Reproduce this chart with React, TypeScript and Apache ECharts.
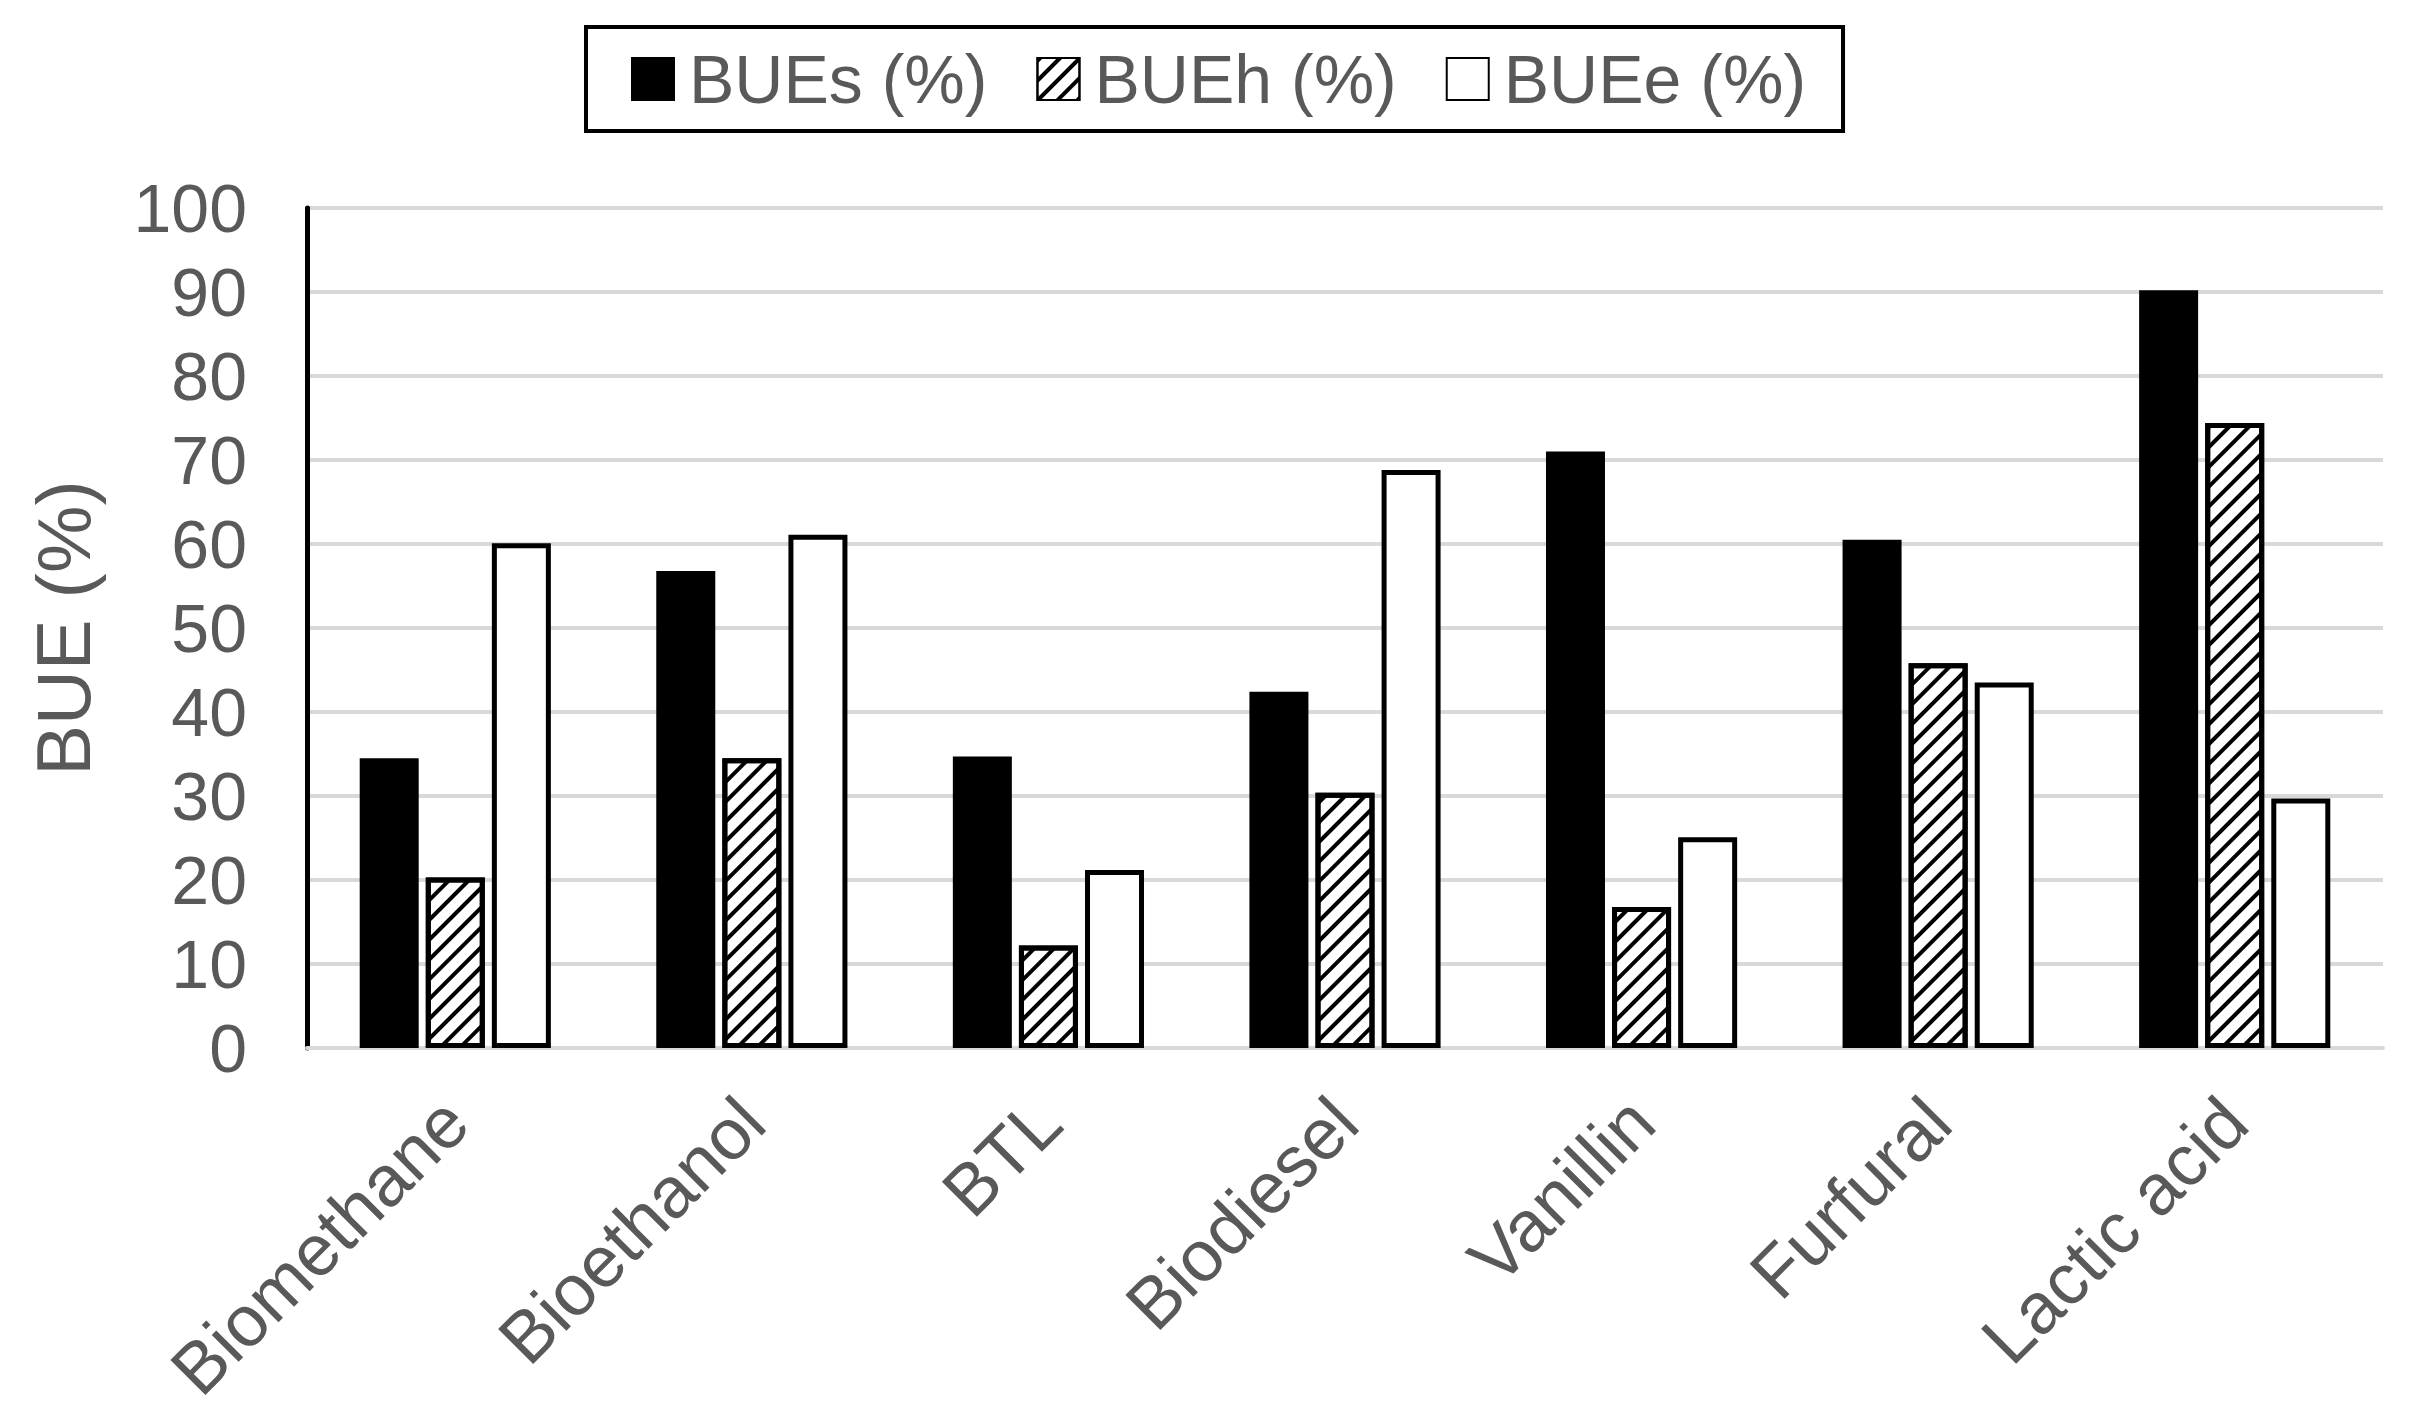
import React, { useEffect, useRef } from "react";
import * as echarts from "echarts";

const categories = ["Biomethane", "Bioethanol", "BTL", "Biodiesel", "Vanillin", "Furfural", "Lactic acid"];
const bueS = [34.5, 56.8, 34.7, 42.4, 71.0, 60.5, 90.2];
const bueH = [20.3, 34.5, 12.2, 30.4, 16.8, 45.8, 74.4];
const bueE = [60.1, 61.1, 21.2, 68.8, 25.1, 43.5, 29.7];
const seriesNames = ["BUEs (%)", "BUEh (%)", "BUEe (%)"];

const FONT = "Liberation Sans, Arial, sans-serif";
const GREY = "#595959";

export default function App() {
  const ref = useRef<HTMLDivElement>(null);
  useEffect(() => {
    const chart = echarts.init(ref.current!, undefined, { renderer: "svg" });
    chart.setOption({
      animation: false,
      backgroundColor: "#ffffff",
      legend: {
        left: 586,
        top: 27,
        orient: "horizontal",
        borderColor: "#000",
        borderWidth: 4,
        padding: [18, 37, 18, 45],
        itemWidth: 42,
        itemHeight: 42,
        itemGap: 49,
        icon: "rect",
        textStyle: { fontSize: 68, lineHeight: 43, color: GREY, fontFamily: FONT, padding: [0, 0, 0, 10] },
        data: seriesNames,
      },
      grid: { left: 307, right: 47, top: 208, bottom: 371, containLabel: false },
      xAxis: {
        type: "category",
        data: categories,
        axisLine: { show: true, lineStyle: { color: "#d9d9d9", width: 4 } },
        axisTick: { show: false },
        axisLabel: { rotate: 45, fontSize: 72, color: GREY, fontFamily: FONT, margin: 62, interval: 0 },
      },
      yAxis: {
        type: "value",
        min: 0,
        max: 100,
        interval: 10,
        name: "BUE (%)",
        nameLocation: "middle",
        nameGap: 206,
        nameTextStyle: { fontSize: 76, color: GREY, fontFamily: FONT },
        axisLine: { show: true, lineStyle: { color: "#000", width: 5 } },
        axisTick: { show: false },
        splitLine: { lineStyle: { color: "#d9d9d9", width: 4 } },
        axisLabel: { fontSize: 68, color: GREY, fontFamily: FONT, margin: 60 },
      },
      series: [
        {
          name: seriesNames[0],
          type: "bar",
          data: bueS,
          barWidth: 59,
          barGap: "12%",
          itemStyle: { color: "#000", borderColor: "#000", borderWidth: 5 },
        },
        {
          name: seriesNames[1],
          type: "bar",
          data: bueH,
          barWidth: 59,
          barGap: "12%",
          itemStyle: {
            color: "#fff",
            borderColor: "#000",
            borderWidth: 5,
            decal: {
              symbol: "rect",
              symbolSize: 1,
              color: "#000",
              backgroundColor: "#fff",
              dashArrayX: [1, 0],
              dashArrayY: [4, 10],
              rotation: -Math.PI / 4,
            },
          },
        },
        {
          name: seriesNames[2],
          type: "bar",
          data: bueE,
          barWidth: 59,
          barGap: "12%",
          itemStyle: { color: "#fff", borderColor: "#000", borderWidth: 5 },
        },
      ],
    });
    return () => chart.dispose();
  }, []);
  return <div ref={ref} style={{ position: "absolute", left: 0, top: 0, width: 2430, height: 1419 }} />;
}
